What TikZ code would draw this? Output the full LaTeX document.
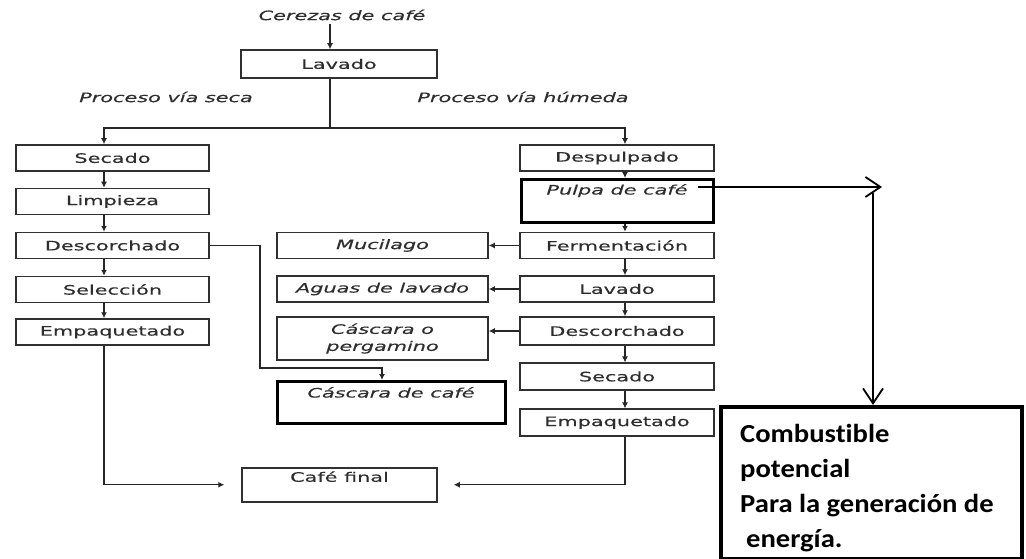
\documentclass[tikz,border=0pt]{standalone}
\usepackage{fontspec}
\setmainfont{DejaVu Sans}
\newfontfamily\vf[FakeStretch=1.6,FakeBold=0.3]{DejaVu Sans}
\newfontfamily\cbf[FakeStretch=1.1,Ligatures=NoCommon]{Carlito}
\usetikzlibrary{arrows.meta,calc}
\definecolor{linec}{HTML}{262626}
\definecolor{boxc}{HTML}{303030}
\definecolor{txtc}{HTML}{2E2E2E}
\begin{document}
\begin{tikzpicture}[x=1pt,y=-1pt,
  line/.style={draw=linec, line width=1.3pt},
  arr/.style={line, -{Latex[length=6pt,width=6pt]}},
  big/.style={draw=black, line width=1.8pt, -{Straight Barb[length=15pt,width=20pt]}},
  vtxt/.style={font=\vf\fontsize{13}{16}\selectfont, text=txtc},
  itxt/.style={font=\vf\itshape\fontsize{13}{16}\selectfont, text=txtc},
  box/.style={draw=boxc, line width=1.5pt, inner sep=0pt, minimum height=26pt, vtxt},
  ibox/.style={box, itxt},
  lbox/.style={box, minimum width=193pt},
  rbox/.style={box, minimum width=194pt},
  mbox/.style={ibox, minimum width=211pt},
  thickbox/.style={draw=black, line width=3pt, inner sep=0pt, itxt}
]
\useasboundingbox (0,0) rectangle (1026,559);
\clip (0,0) rectangle (1026,559);

% top
\node[itxt] (cer) at (342,15) {Cerezas de café};
\node[box, minimum width=196pt, minimum height=28pt] (lav) at (339,64) {Lavado};
\node[itxt] (pvs) at (166,97) {Proceso vía seca};
\node[itxt] (pvh) at (523,97) {Proceso vía húmeda};

% left column
\node[lbox] (sec1) at (112.5,158) {Secado};
\node[lbox] (lim) at (112.5,201.5) {Limpieza};
\node[lbox] (des1) at (112.5,245.5) {Descorchado};
\node[lbox] (sel) at (112.5,289.5) {Selección};
\node[lbox] (emp1) at (112.5,332) {Empaquetado};

% middle column
\node[mbox] (muc) at (382.5,245.5) {Mucilago};
\node[mbox] (agu) at (382.5,289) {Aguas de lavado};
\node[mbox, minimum height=43pt, align=center, font=\vf\itshape\fontsize{13}{17}\selectfont] (cas) at (382.5,338.5) {Cáscara o\\pergamino};
\node[thickbox, minimum width=228pt, text height=16pt, text depth=26pt, anchor=north] (cdc) at (391,380) {Cáscara de café};
\node[box, minimum width=195pt, text height=14pt, text depth=20pt, minimum height=0pt, anchor=north] (cafe) at (339.5,467) {Café final};

% right column
\node[rbox] (desp) at (617,158) {Despulpado};
\node[thickbox, minimum width=192pt, text height=15pt, text depth=28pt, anchor=north] (pulpa) at (617,178) {Pulpa de café};
\node[rbox] (ferm) at (617,245.5) {Fermentación};
\node[rbox] (lav2) at (617,289) {Lavado};
\node[rbox, minimum height=28pt] (des2) at (617,331) {Descorchado};
\node[rbox, minimum height=27pt, line width=1.1pt] (sec2) at (617,376.5) {Secado};
\node[rbox, minimum height=27pt, line width=1.1pt] (emp2) at (617,422.5) {Empaquetado};

% combustible box
\node[draw=black, line width=4pt, minimum width=301pt, minimum height=152pt, anchor=north west, inner sep=0pt] (comb) at (719,405) {};
\node[font=\cbf\bfseries\fontsize{26}{35}\selectfont, align=left, anchor=north west, inner sep=0pt] (combt) at (740,424) {Combustible\\potencial\\Para la generación de\\\hspace*{6pt}energía.};

% helper coordinates
\coordinate (xl) at (104,0);
\coordinate (xr) at (625,0);
\coordinate (xc) at (330,0);
\coordinate (split) at (330,128);
\coordinate (k1) at (260,368);
\coordinate (pst) at ($(pulpa.north east)+(-17,9)$);
\coordinate (pend) at (882,187);
\coordinate (vtop) at (873,193);

% connectors
\draw[arr] (cer.south -| xc) -- (lav.north -| xc);
\draw[line] (lav.south -| xc) -- (split);
\draw[arr] (split) -| (sec1.north -| xl);
\draw[arr] (split) -| (desp.north -| xr);

\draw[arr] (sec1.south -| xl) -- (lim.north -| xl);
\draw[arr] (lim.south -| xl) -- (des1.north -| xl);
\draw[arr] (des1.south -| xl) -- (sel.north -| xl);
\draw[arr] (sel.south -| xl) -- (emp1.north -| xl);

\draw[arr] (desp.south -| xr) -- (pulpa.north -| xr);
\draw[arr] (pulpa.south -| xr) -- (ferm.north -| xr);
\draw[arr] (ferm.south -| xr) -- (lav2.north -| xr);
\draw[arr] (lav2.south -| xr) -- (des2.north -| xr);
\draw[arr] (des2.south -| xr) -- (sec2.north -| xr);
\draw[arr] (sec2.south -| xr) -- (emp2.north -| xr);

\draw[arr] (ferm.west) -- (muc.east);
\draw[arr] (lav2.west) -- (agu.east);
\draw[arr] (des2.west) -- (des2.west -| cas.east);

\draw[arr] (des1.east) -| (k1) -| ($(cdc.north)+(-9,0)$);
\draw[arr] (emp1.south -| xl) |- ($(cafe.west)+(-17,0)$);
\draw[arr] (emp2.south -| xr) |- ($(cafe.east)+(16,0)$);

\draw[big] (pst) -- (pend);
\draw[big] (vtop) -- (vtop |- comb.north);
\end{tikzpicture}
\end{document}
